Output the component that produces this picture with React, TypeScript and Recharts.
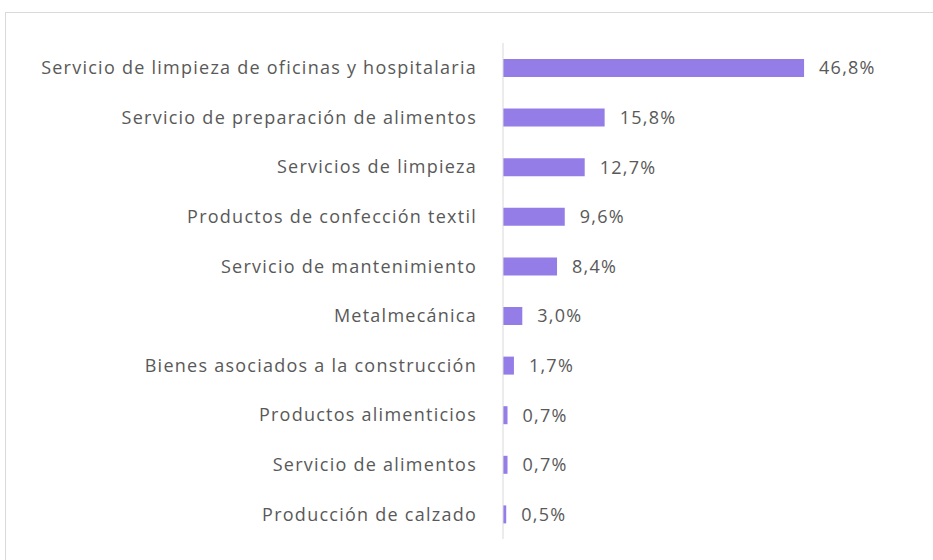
import { BarChart, Bar, XAxis, YAxis, LabelList } from "recharts";

const categories = [
  "Servicio de limpieza de oficinas y hospitalaria",
  "Servicio de preparación de alimentos",
  "Servicios de limpieza",
  "Productos de confección textil",
  "Servicio de mantenimiento",
  "Metalmecánica",
  "Bienes asociados a la construcción",
  "Productos alimenticios",
  "Servicio de alimentos",
  "Producción de calzado",
];

const shares = [46.8, 15.8, 12.7, 9.6, 8.4, 3.0, 1.7, 0.7, 0.7, 0.5];

const data = categories.map((name, i) => ({ name, value: shares[i] }));

const fmt = (v: number) => `${v.toFixed(1).replace(".", ",")}%`;

const textFont = { fill: "#595959", fontSize: 18, fontFamily: "Open Sans", letterSpacing: 1.25 };

export default function App() {
  return (
    <div style={{ position: "absolute", left: 0, top: 0, width: 933, height: 560, background: "#fff", overflow: "hidden" }}>
      <div
        style={{
          position: "absolute",
          left: 5,
          top: 12,
          width: 960,
          height: 600,
          border: "1px solid #d9d9d9",
          boxSizing: "border-box",
        }}
      />
      <div style={{ position: "absolute", left: 0, top: 0 }}>
        <BarChart
          width={933}
          height={560}
          data={data}
          layout="vertical"
          margin={{ top: 43, right: 44, bottom: 21, left: 0 }}
          barSize={18}
        >
          <XAxis type="number" domain={[0, 60]} hide />
          <YAxis
            type="category"
            dataKey="name"
            width={503}
            tickLine={false}
            tickSize={0}
            tickMargin={26}
            axisLine={{ stroke: "#d9d9d9", strokeWidth: 1 }}
            tick={textFont}
            interval={0}
          />
          <Bar dataKey="value" fill="#957de8" isAnimationActive={false}>
            <LabelList
              dataKey="value"
              position="right"
              offset={15}
              formatter={(v: any) => fmt(Number(v))}
              style={textFont}
            />
          </Bar>
        </BarChart>
      </div>
    </div>
  );
}
